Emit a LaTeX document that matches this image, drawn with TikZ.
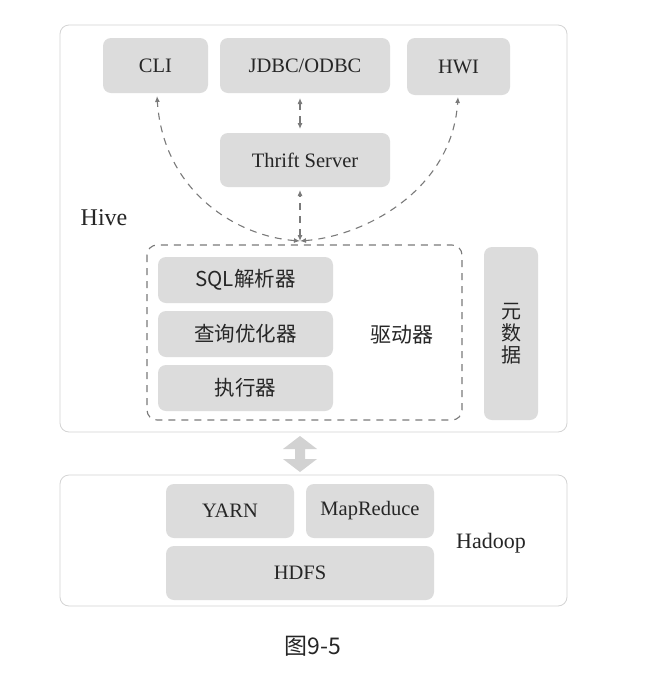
\documentclass[tikz,border=0pt]{standalone}
\usepackage{fontspec}
\setmainfont{Liberation Serif}
\newfontfamily\cjk{Noto Sans CJK SC}
\usetikzlibrary{arrows.meta}
\definecolor{boxgray}{HTML}{DCDCDC}
\definecolor{txtgray}{HTML}{262626}
\definecolor{linegray}{HTML}{D4D4D4}
\definecolor{dashgray}{HTML}{7A7A7A}
\definecolor{arrgray}{HTML}{D2D2D2}
\tikzset{
  gbox/.style={fill=boxgray, rounded corners=8pt, inner sep=0pt, text=txtgray,
    font=\fontsize{20.5}{24}\selectfont},
  cbox/.style={gbox, font=\cjk\fontsize{20.5}{24}\selectfont},
  outer/.style={draw=linegray, line width=0.8pt, rounded corners=9pt, fill=white},
  dlink/.style={draw=dashgray, line width=1.1pt, dash pattern=on 7pt off 6pt,
    {Latex[length=6pt,width=5pt]}-{Latex[length=6pt,width=5pt]}},
  lbl/.style={text=txtgray, inner sep=0pt}
}
\begin{document}
\begin{tikzpicture}[x=1pt,y=-1pt]
\useasboundingbox (0,0) rectangle (655,681);
\fill[white] (0,0) rectangle (655,681);
% outer frames
\draw[outer] (60,25) rectangle (567,432);
\draw[outer] (60,475) rectangle (567,606);
% top row
\node[gbox, minimum width=105pt, minimum height=55pt] (cli) at (155.5,65.5) {CLI};
\node[gbox, minimum width=170pt, minimum height=55pt] (jdbc) at (305,65.5) {JDBC/ODBC};
\node[gbox, minimum width=103pt, minimum height=57pt] (hwi) at (458.5,66.5) {HWI};
\node[gbox, minimum width=170pt, minimum height=54pt] (thrift) at (305,160) {Thrift Server};
% Hive label
\node[lbl, font=\fontsize{24}{28}\selectfont] (hive) at (104,218) {Hive};
% driver
\draw[draw=dashgray, line width=1.1pt, dash pattern=on 7pt off 6pt, rounded corners=10pt] (147,245) rectangle (462,420);
\node[cbox, minimum width=175pt, minimum height=46pt] (sql) at (245.5,280) {SQL解析器};
\node[cbox, minimum width=175pt, minimum height=46pt] (opt) at (245.5,334) {查询优化器};
\node[cbox, minimum width=175pt, minimum height=46pt] (exe) at (245.5,388) {执行器};
\node[lbl, font=\cjk\fontsize{21}{24}\selectfont] (drv) at (402,335) {驱动器};
\node[gbox, minimum width=54pt, minimum height=173pt, align=center,
  font=\cjk\fontsize{20}{22}\selectfont] (meta) at (511,333.5) {元\\数\\据};
% connectors
\coordinate (conv) at (300,241);
\coordinate (tA) at (300,98);
\coordinate (tB) at (300,129);
\coordinate (tC) at (300,190);
\coordinate (cliB) at (157,96);
\coordinate (hwiB) at (458,97);
\draw[dlink] (tA) -- (tB);
\draw[dlink] (conv) -- (tC);
\draw[dlink] (conv) .. controls (235,236) and (163,190) .. (cliB);
\draw[dlink] (conv) .. controls (365,236) and (452,190) .. (hwiB);
% big double arrow
\fill[arrgray] (300,436) -- (317,449) -- (305,449) -- (305,459) -- (317,459) -- (300,472)
  -- (283,459) -- (295,459) -- (295,449) -- (283,449) -- cycle;
% hadoop
\node[gbox, minimum width=128pt, minimum height=54pt] (yarn) at (230,511) {YARN};
\node[gbox, minimum width=128pt, minimum height=54pt] (mr) at (370,511) {MapReduce};
\node[gbox, minimum width=268pt, minimum height=54pt] (hdfs) at (300,573) {HDFS};
\node[lbl, font=\fontsize{22}{26}\selectfont] (hadoop) at (491,543) {Hadoop};
% caption
\node[text=txtgray, font=\cjk\fontsize{23}{26}\selectfont, inner sep=0pt] (cap) at (313,646) {图9-5};
\end{tikzpicture}
\end{document}
